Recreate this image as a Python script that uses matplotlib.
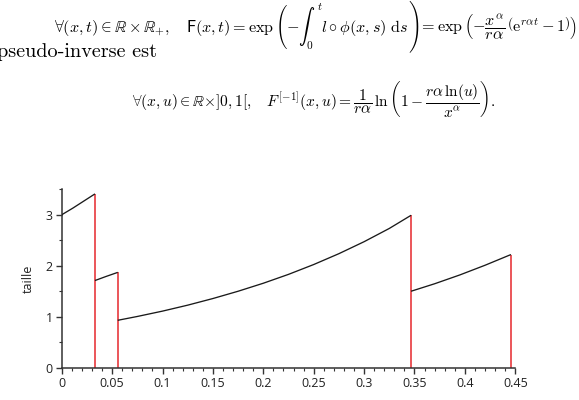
"""
Taille d'une cellule au cours du temps : croissance exponentielle entre
deux divisions (traits rouges), sous les formules de F et de sa pseudo-inverse.

Saves: out.png
"""

import os

import matplotlib
matplotlib.use("Agg")
import matplotlib.pyplot as plt
from matplotlib.font_manager import FontProperties
from matplotlib.textpath import TextPath
from matplotlib.ticker import MultipleLocator

plt.rcParams["mathtext.fontset"] = "cm"

W, H = 579, 400

# ---------------------------------------------------------------------------
# Data: one (t, taille) list per growth phase
# ---------------------------------------------------------------------------
seg1_t = [0.0, 0.011, 0.022, 0.033]
seg1_y = [3.00, 3.13, 3.27, 3.41]
seg2_t = [0.033, 0.044, 0.0556]
seg2_y = [1.71, 1.79, 1.87]
seg3_t = [0.0556, 0.075, 0.1, 0.125, 0.15, 0.175, 0.2, 0.225, 0.25, 0.275, 0.3, 0.325, 0.3466]
seg3_y = [0.93, 1.005, 1.11, 1.227, 1.357, 1.50, 1.657, 1.831, 2.024, 2.237, 2.472, 2.732, 2.99]
seg4_t = [0.3466, 0.37, 0.395, 0.42, 0.4457]
seg4_y = [1.50, 1.647, 1.82, 2.01, 2.22]

# division times and size just before division
div_t = [0.033, 0.0556, 0.3466, 0.4457]
div_y = [3.41, 1.87, 2.99, 2.22]

x_ticks = [0, 0.05, 0.1, 0.15, 0.2, 0.25, 0.3, 0.35, 0.4, 0.45]
x_ticklabels = ["0", "0.05", "0.1", "0.15", "0.2", "0.25", "0.3", "0.35", "0.4", "0.45"]

# formula texts
L1_HEAD = r"$\forall (x,t) \in \mathbb{R} \times \mathbb{R}_{+},$"
L1_A = r"$\mathsf{F}(x,t) = \exp\left(-\int_0^t l\circ\phi(x,s)\ \mathrm{d}s\right.$"
L1_C = r"$= \exp\left({-}\dfrac{x^\alpha}{r\alpha}\,\left(\mathrm{e}^{r\alpha t}-1\right)\right)$"
L2 = "pseudo-inverse est"
L3 = (r"$\forall (x,u) \in \mathbb{R}{\times}]0,1[,\quad "
      r"F^{[-1]}(x,u) = \dfrac{1}{r\alpha}\,\ln\left(1-\dfrac{r\alpha\,\ln(u)}{x^\alpha}\right).$")

BLACK = "#1a1a1a"
RED = "#e8383d"
AX_COL = "#333333"

CMEX = os.path.join(matplotlib.get_data_path(), "fonts/ttf/cmex10.ttf")
RPAREN = "\x21"   # biggest ')' in cmex10 (mathtext picks a broken glyph for it)


def px_text(fig, x, y, s, **kw):
    """fig.text with x, y in pixels (y from the bottom)."""
    return fig.text(x / W, y / H, s, **kw)


def width(t, r):
    return t.get_window_extent(r).width


def fit_size(fig, strings, target, r, extra=0.0, **kw):
    """Font size that makes the summed width of `strings` equal `target` px."""
    fs = 12.0
    for _ in range(3):
        probe = [fig.text(0, 0, s, fontsize=fs, **kw) for s in strings]
        w = sum(width(t, r) for t in probe) + extra * fs
        for t in probe:
            t.remove()
        fs = fs * target / w
    return fs


def draw_formulas(fig):
    r = fig.canvas.get_renderer()

    # --- line 1: "F(x,t) = ... )" ends at 577 px, cut on the left -----------
    fs1 = fit_size(fig, [L1_A, L1_C], 420 * 0.93, r, extra=0.9)
    base1 = H - 24
    t_head = px_text(fig, 0, base1, L1_HEAD, fontsize=fs1, va="baseline")
    t_a = px_text(fig, 0, base1, L1_A, fontsize=fs1, va="baseline")
    t_c = px_text(fig, 0, base1, L1_C, fontsize=fs1, va="baseline")

    # keep the big parenthesis inside the picture
    ba = t_a.get_window_extent(r)
    if ba.y1 > H - 1:
        base1 -= ba.y1 - (H - 1)
        for t in (t_head, t_a, t_c):
            t.set_y(base1 / H)
        ba = t_a.get_window_extent(r)

    # right paren glyph, scaled to the left one
    ext = TextPath((0, 0), RPAREN, prop=FontProperties(fname=CMEX, size=10)).get_extents()
    k = ba.height / ext.height                  # px per TextPath unit
    s_par = 10 * k * 72 / 100
    w_par = ext.width * k
    gap = 0.12 * fs1

    x_c = 577 - width(t_c, r)
    x_p = x_c - w_par - gap
    x_a = x_p - 0.05 * fs1 - ba.width
    x_h = x_a - width(t_head, r) - fs1 * 100 / 72    # \quad
    t_c.set_x(x_c / W)
    t_a.set_x(x_a / W)
    t_head.set_x(x_h / W)
    px_text(fig, x_p - ext.x0 * k, ba.y0 - ext.y0 * k, RPAREN,
            fontproperties=FontProperties(fname=CMEX, size=s_par), va="baseline")

    # --- line 2 -------------------------------------------------------------
    fs2 = fit_size(fig, [L2], 160, r, family="cmr10")
    px_text(fig, -3, H - 57, L2, fontsize=fs2, family="cmr10", va="baseline")

    # --- line 3: centred on 130..497 px -------------------------------------
    fs3 = fit_size(fig, [L3], 367 * 0.99, r)
    px_text(fig, 313.5, H - 107, L3, fontsize=fs3, ha="center", va="baseline")


def main():
    fig = plt.figure(figsize=(W / 100, H / 100), dpi=100)

    draw_formulas(fig)

    ax = fig.add_axes([61.7 / W, 32.3 / H, (515.3 - 61.7) / W, (367.7 - 189.3) / H])

    for t, y in [(seg1_t, seg1_y), (seg2_t, seg2_y), (seg3_t, seg3_y), (seg4_t, seg4_y)]:
        ax.plot(t, y, color=BLACK, lw=0.95, zorder=3, solid_capstyle="butt")
    ax.vlines(div_t, 0, div_y, color=RED, lw=1.2, zorder=2)

    ax.set_xlim(0, 0.45)
    ax.set_ylim(0, 3.5)
    ax.set_xticks(x_ticks)
    ax.set_xticklabels(x_ticklabels)
    ax.xaxis.set_minor_locator(MultipleLocator(0.01))
    ax.yaxis.set_major_locator(MultipleLocator(1))
    ax.yaxis.set_minor_locator(MultipleLocator(0.5))

    for s in ("top", "right"):
        ax.spines[s].set_visible(False)
    for s in ("left", "bottom"):
        ax.spines[s].set_linewidth(1.1)
        ax.spines[s].set_color(AX_COL)

    ax.tick_params(which="major", length=4, width=1.0, color=AX_COL,
                   labelsize=9, labelcolor="#222222", pad=2.5)
    ax.tick_params(which="minor", length=2.2, width=0.8, color=AX_COL)
    for lab in ax.get_xticklabels() + ax.get_yticklabels():
        lab.set_family("Open Sans")

    ax.set_ylabel("taille", fontsize=9, family="Open Sans", color="#222222")
    ax.yaxis.set_label_coords((34.5 - 61.7) / (515.3 - 61.7), 0.5)

    fig.savefig("out.png", dpi=100)


if __name__ == "__main__":
    main()
